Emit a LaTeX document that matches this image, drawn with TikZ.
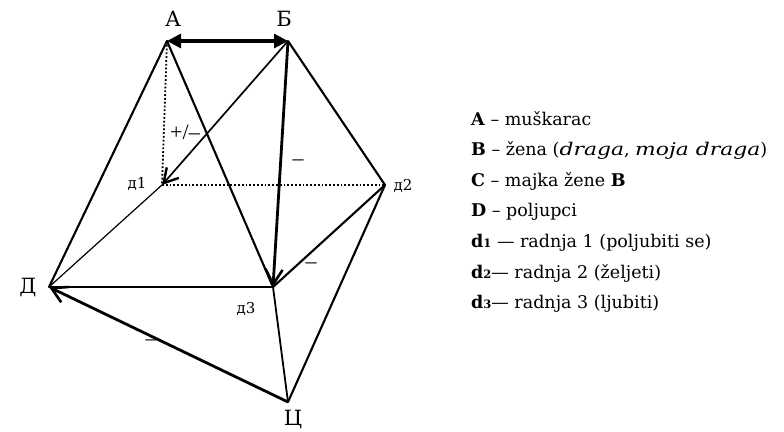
\documentclass[tikz,border=0pt]{standalone}
\usepackage{fontspec}
\setmainfont{DejaVu Serif}[
  ItalicFeatures={FakeStretch=1.25}]
\newfontfamily\signfont{Liberation Serif}
\usetikzlibrary{arrows.meta}
\tikzset{
  lbl/.style={inner sep=0pt, font=\fontsize{21}{25}\selectfont},
  slbl/.style={inner sep=0pt, font=\fontsize{15}{17}\selectfont},
  sign/.style={inner sep=0pt, font=\signfont\fontsize{22}{26}\selectfont},
  edge/.style={line width=2.1pt, line cap=round},
  thin edge/.style={line width=1.2pt},
  dots/.style={line width=1.8pt, dotted},
  heavy/.style={line width=2.8pt},
  barb/.style={-{Straight Barb[length=15pt,width=17pt,line width=2.6pt]}},
  leg/.style={anchor=base west, inner sep=0pt, font=\fontsize{17.5}{21}\selectfont},
}
\newcommand{\subd}[1]{{\fontsize{11.5}{13}\selectfont\textbf{#1}}}
\begin{document}
\begin{tikzpicture}[x=1pt,y=-1pt]
\useasboundingbox (0,0) rectangle (784,431);
% vertices
\coordinate (A) at (167,41);
\coordinate (B) at (288,41);
\coordinate (D1) at (162,185);
\coordinate (D2) at (385,185);
\coordinate (D) at (49,287);
\coordinate (D3) at (273,287);
\coordinate (C) at (288,402);
% edges
\draw[dots] (A) -- (D1);
\draw[dots] (D1) -- (D2);
\draw[thin edge] (D1) -- (D);
\draw[edge] (A) -- (D);
\draw[edge] (A) -- (D3);
\draw[edge] (B) -- (D2);
\draw[edge] (D3) -- (D2);
\draw[edge] (D2) -- (C);
\draw[line width=1.8pt] (D3) -- (C);
\draw[line width=2.5pt] (D) -- (D3);
\draw[line width=1.7pt, -{Straight Barb[length=14pt,width=16pt,line width=2.4pt]}] (B) -- (D1);
\draw[heavy, barb] (B) -- (D3);
\draw[heavy, barb] (C) -- (D);
\draw[line width=3.2pt, {Triangle[length=14pt,width=14pt]}-{Triangle[length=14pt,width=14pt]}] (A) -- (B);
% vertex labels
\node[lbl] (lA) at (173,19) {А};
\node[lbl] (lB) at (284,19) {Б};
\node[lbl] (lD) at (28,287) {Д};
\node[lbl] (lC) at (293,419) {Ц};
\node[slbl] (l1) at (137,184) {д1};
\node[slbl] (l2) at (403,186) {д2};
\node[slbl] (l3) at (246,309) {д3};
% signs
\node[sign] (s0) at (185,132) {+/\textendash};
\node[sign] (s1) at (298,163) {\textendash};
\node[sign] (s2) at (311,266) {\textendash};
\node[sign] (s3) at (151,343) {\textendash};
% legend
\node[leg] (g1) at (471,125) {\textbf{A} \textendash{} muškarac};
\node[leg] (g2) at (471,155) {\textbf{B} \textendash{} žena (\textit{draga}, \textit{moja draga})};
\node[leg] (g3) at (471,186) {\textbf{C} \textendash{} majka žene \textbf{B}};
\node[leg] (g4) at (471,216) {\textbf{D} \textendash{} poljupci};
\node[leg] (g5) at (471,247) {\textbf{d}\subd{1} \textemdash{} radnja 1 (poljubiti se)};
\node[leg] (g6) at (471,278) {\textbf{d}\subd{2}\textemdash{} radnja 2 (željeti)};
\node[leg] (g7) at (471,308) {\textbf{d}\subd{3}\textemdash{} radnja 3 (ljubiti)};
\end{tikzpicture}
\end{document}
